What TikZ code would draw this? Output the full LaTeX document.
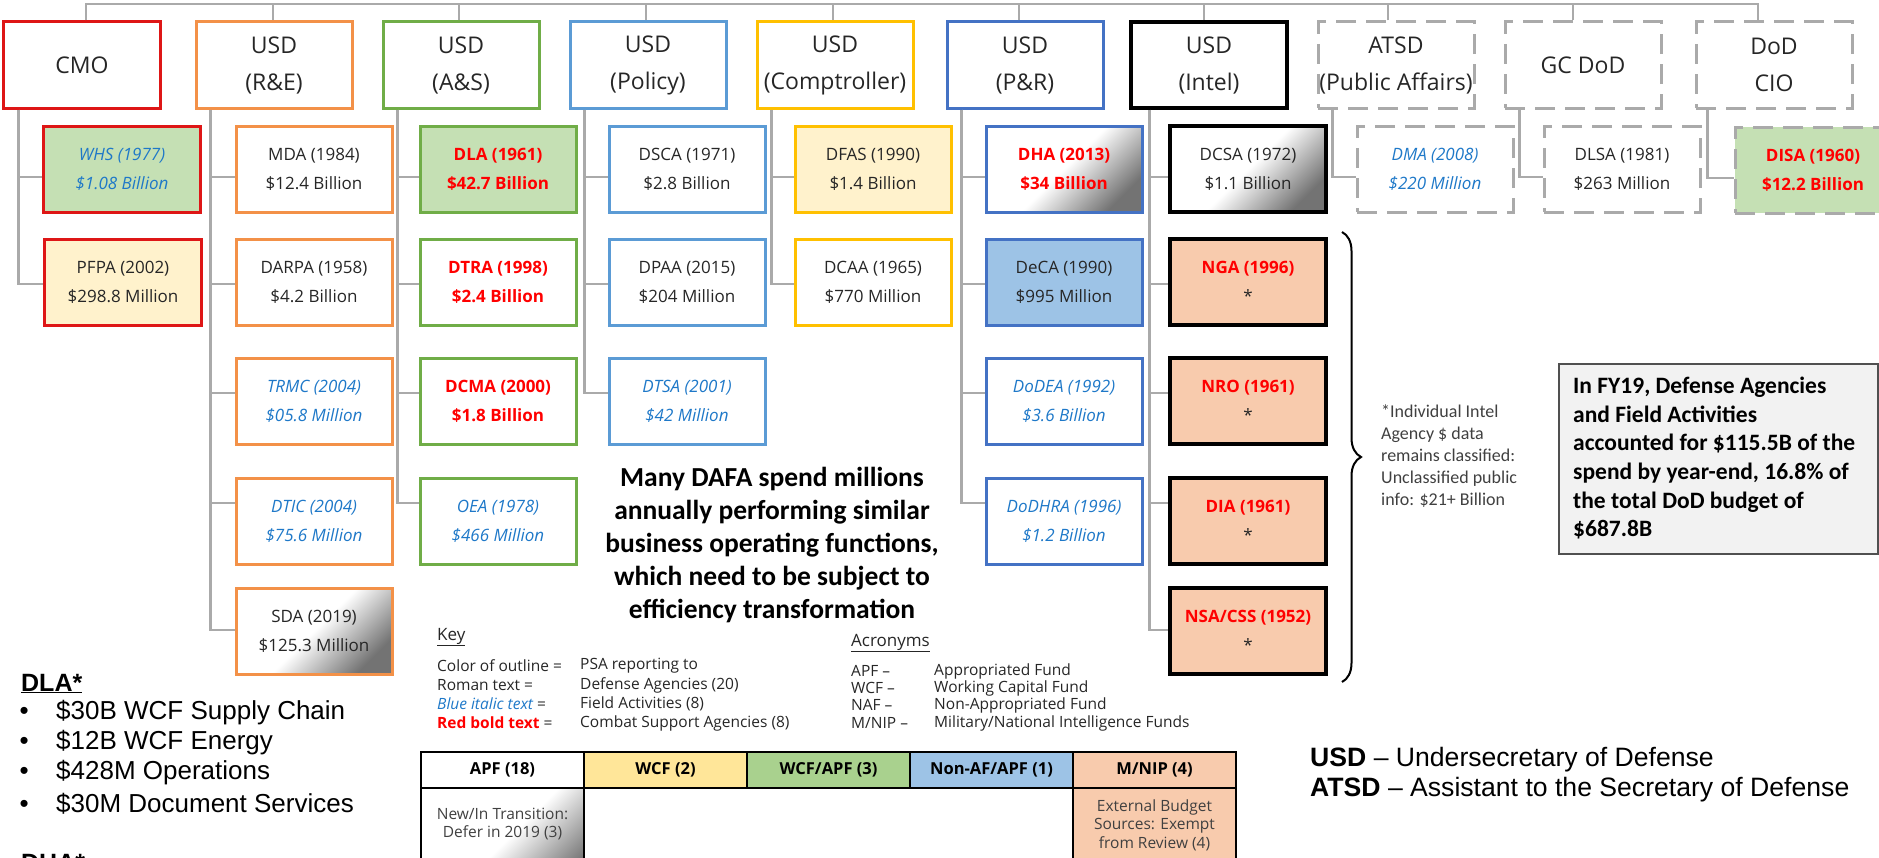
\documentclass[tikz,border=0pt]{standalone}
\usepackage{fontspec}
\setmainfont{Open Sans}
\newfontfamily\carl{Carlito}
\newfontfamily\arlf{Liberation Sans}
\usetikzlibrary{decorations.pathreplacing}
\definecolor{cRed}{RGB}{222,22,22}
\definecolor{cOrange}{RGB}{243,145,72}
\definecolor{cGreen}{RGB}{112,173,71}
\definecolor{cLBlue}{RGB}{91,155,213}
\definecolor{cYellow}{RGB}{255,192,0}
\definecolor{cBlue}{RGB}{68,114,196}
\definecolor{cDash}{RGB}{170,170,170}
\definecolor{cConn}{RGB}{170,170,170}
\definecolor{fGreen}{RGB}{197,224,180}
\definecolor{fYellow}{RGB}{255,242,204}
\definecolor{fBlue}{RGB}{157,195,230}
\definecolor{fPeach}{RGB}{248,203,173}
\definecolor{hYellow}{RGB}{255,230,153}
\definecolor{hGreen}{RGB}{169,209,142}
\definecolor{tBlue}{RGB}{30,120,200}
\definecolor{tRed}{RGB}{255,0,0}
\definecolor{txt}{RGB}{38,38,38}
\definecolor{txtb}{RGB}{64,64,64}
\definecolor{fGray}{RGB}{242,242,242}
\definecolor{bGray}{RGB}{80,80,80}
\tikzset{
  topbox/.style={draw, line width=3bp, minimum width=156bp, minimum height=86bp, inner sep=0pt, align=center, text=txt, font=\fontsize{23bp}{37bp}\selectfont},
  agbox/.style={draw, line width=3bp, minimum width=156bp, minimum height=86bp, inner sep=0pt, align=center, text=txt, font=\fontsize{17bp}{29bp}\selectfont},
  dashbox/.style={draw=cDash, dash pattern=on 20bp off 10bp},
  blackbox/.style={draw=black, line width=3.5bp},
  fa/.style={text=tBlue, font=\fontsize{17bp}{29bp}\selectfont\itshape},
  csa/.style={text=tRed, font=\fontsize{17bp}{29bp}\selectfont\bfseries},
  grad/.style={top color=white, bottom color=black!55, middle color=white, shading angle=45},
  conn/.style={draw=cConn, line width=2.5bp},
  keyt/.style={anchor=west, inner sep=0pt, text=txt, font=\fontsize{15.5bp}{19bp}\selectfont},
  cell/.style={draw=black, line width=2bp, inner sep=0pt},
  hdr/.style={cell, minimum width=163bp, minimum height=36bp, font=\bfseries\fontsize{16.5bp}{20bp}\selectfont, text=black},
  bul/.style={anchor=west, inner sep=0pt, font=\arlf\fontsize{26bp}{30bp}\selectfont},
  legt/.style={anchor=west, inner sep=0pt, font=\arlf\fontsize{26.6bp}{30bp}\selectfont},
}
\begin{document}
\begin{tikzpicture}[x=1bp,y=-1bp]
\useasboundingbox (0,0) rectangle (1879,858);
\clip (0,0) rectangle (1879,858);
% ---------- top level ----------
\node[topbox, draw=cRed] (cmo) at (82,65) {CMO};
\node[topbox, draw=cOrange] (re) at (274,65) {USD\\(R\&E)};
\node[topbox, draw=cGreen] (as) at (461,65) {USD\\(A\&S)};
\node[topbox, draw=cLBlue] (pol) at (648,65) {USD\\(Policy)};
\node[topbox, draw=cYellow] (comp) at (835,65) {USD\\(Comptroller)};
\node[topbox, draw=cBlue] (pr) at (1025,65) {USD\\(P\&R)};
\node[topbox, blackbox] (intel) at (1209,65) {USD\\(Intel)};
\node[topbox, dashbox] (atsd) at (1396,65) {ATSD\\(Public Affairs)};
\node[topbox, dashbox] (gc) at (1583,65) {GC DoD};
\node[topbox, dashbox] (cio) at (1774,65) {DoD\\CIO};
\coordinate (tl) at (82,4);
\draw[conn] ([xshift=4bp]cmo.north) -- ([xshift=4bp]cmo.north |- tl) -- ([xshift=-16bp]cio.north |- tl) -- ([xshift=-16bp]cio.north);
\foreach \n/\d in {re/-1,as/-2,pol/-2,comp/-2,pr/-6,intel/-5,atsd/-8,gc/-10}
  \draw[conn] ([xshift=\d bp]\n.north) -- ([xshift=\d bp]\n.north |- tl);
% ---------- agencies ----------
\node[agbox, draw=cRed, fill=fGreen, fa] (whs) at (122,169) {WHS (1977)\\\$1.08 Billion};
\node[agbox, draw=cRed, fill=fYellow] (pfpa) at (123,282) {PFPA (2002)\\\$298.8 Million};

\node[agbox, draw=cOrange] (mda) at (314,169) {MDA (1984)\\\$12.4 Billion};
\node[agbox, draw=cOrange] (darpa) at (314,282) {DARPA (1958)\\\$4.2 Billion};
\node[agbox, draw=cOrange, fa] (trmc) at (314,401) {TRMC (2004)\\\$05.8 Million};
\node[agbox, draw=cOrange, fa] (dtic) at (314,521) {DTIC (2004)\\\$75.6 Million};
\node[agbox, draw=cOrange, grad] (sda) at (314,631) {SDA (2019)\\\$125.3 Million};

\node[agbox, draw=cGreen, fill=fGreen, csa] (dla) at (498,169) {DLA (1961)\\\$42.7 Billion};
\node[agbox, draw=cGreen, csa] (dtra) at (498,282) {DTRA (1998)\\\$2.4 Billion};
\node[agbox, draw=cGreen, csa] (dcma) at (498,401) {DCMA (2000)\\\$1.8 Billion};
\node[agbox, draw=cGreen, fa] (oea) at (498,521) {OEA (1978)\\\$466 Million};

\node[agbox, draw=cLBlue] (dsca) at (687,169) {DSCA (1971)\\\$2.8 Billion};
\node[agbox, draw=cLBlue] (dpaa) at (687,282) {DPAA (2015)\\\$204 Million};
\node[agbox, draw=cLBlue, fa] (dtsa) at (687,401) {DTSA (2001)\\\$42 Million};

\node[agbox, draw=cYellow, fill=fYellow] (dfas) at (873,169) {DFAS (1990)\\\$1.4 Billion};
\node[agbox, draw=cYellow] (dcaa) at (873,282) {DCAA (1965)\\\$770 Million};

\node[agbox, draw=cBlue, grad, csa] (dha) at (1064,169) {DHA (2013)\\\$34 Billion};
\node[agbox, draw=cBlue, fill=fBlue] (deca) at (1064,282) {DeCA (1990)\\\$995 Million};
\node[agbox, draw=cBlue, fa] (dodea) at (1064,401) {DoDEA (1992)\\\$3.6 Billion};
\node[agbox, draw=cBlue, fa] (dodhra) at (1064,521) {DoDHRA (1996)\\\$1.2 Billion};

\node[agbox, blackbox, grad] (dcsa) at (1248,169) {DCSA (1972)\\\$1.1 Billion};
\node[agbox, blackbox, fill=fPeach, csa] (nga) at (1248,282) {NGA (1996)\\{\color{txt}\mdseries *}};
\node[agbox, blackbox, fill=fPeach, csa] (nro) at (1248,401) {NRO (1961)\\{\color{txt}\mdseries *}};
\node[agbox, blackbox, fill=fPeach, csa] (dia) at (1248,521) {DIA (1961)\\{\color{txt}\mdseries *}};
\node[agbox, blackbox, fill=fPeach, csa] (nsa) at (1248,631) {NSA/CSS (1952)\\{\color{txt}\mdseries *}};

\node[agbox, dashbox, fa] (dma) at (1435,169) {DMA (2008)\\\$220 Million};
\node[agbox, dashbox] (dlsa) at (1622,169) {DLSA (1981)\\\$263 Million};
\node[agbox, dashbox, fill=fGreen, csa] (disa) at (1813,170) {DISA (1960)\\\$12.2 Billion};
% ---------- connectors ----------
\coordinate (r1) at (0,177);
\coordinate (r2) at (0,284);
\coordinate (r3) at (0,393);
\coordinate (r4) at (0,503);
\coordinate (r5) at (0,630);
\draw[conn] ([xshift=16bp]cmo.south west) |- (whs.west |- r1);
\draw[conn] ([xshift=16bp]cmo.south west) |- (pfpa.west |- r2);
\draw[conn] ([xshift=16bp]re.south west) |- (mda.west |- r1);
\draw[conn] ([xshift=16bp]re.south west) |- (darpa.west |- r2);
\draw[conn] ([xshift=16bp]re.south west) |- (trmc.west |- r3);
\draw[conn] ([xshift=16bp]re.south west) |- (dtic.west |- r4);
\draw[conn] ([xshift=16bp]re.south west) |- (sda.west |- r5);
\draw[conn] ([xshift=16bp]as.south west) |- (dla.west |- r1);
\draw[conn] ([xshift=16bp]as.south west) |- (dtra.west |- r2);
\draw[conn] ([xshift=16bp]as.south west) |- (dcma.west |- r3);
\draw[conn] ([xshift=16bp]as.south west) |- (oea.west |- r4);
\draw[conn] ([xshift=16bp]pol.south west) |- (dsca.west |- r1);
\draw[conn] ([xshift=16bp]pol.south west) |- (dpaa.west |- r2);
\draw[conn] ([xshift=16bp]pol.south west) |- (dtsa.west |- r3);
\draw[conn] ([xshift=16bp]comp.south west) |- (dfas.west |- r1);
\draw[conn] ([xshift=16bp]comp.south west) |- (dcaa.west |- r2);
\draw[conn] ([xshift=16bp]pr.south west) |- (dha.west |- r1);
\draw[conn] ([xshift=16bp]pr.south west) |- (deca.west |- r2);
\draw[conn] ([xshift=16bp]pr.south west) |- (dodea.west |- r3);
\draw[conn] ([xshift=16bp]pr.south west) |- (dodhra.west |- r4);
\draw[conn] ([xshift=20bp]intel.south west) |- (dcsa.west |- r1);
\draw[conn] ([xshift=20bp]intel.south west) |- (nga.west |- r2);
\draw[conn] ([xshift=20bp]intel.south west) |- (nro.west |- r3);
\draw[conn] ([xshift=20bp]intel.south west) |- (dia.west |- r4);
\draw[conn] ([xshift=20bp]intel.south west) |- (nsa.west |- r5);
\draw[conn] ([xshift=16bp]atsd.south west) |- (dma.west |- r1);
\draw[conn] ([xshift=16bp]gc.south west) |- (dlsa.west |- r1);
\draw[conn] ([xshift=13bp]cio.south west) |- ([yshift=-1bp]disa.west |- r1);
% ---------- brace and note ----------
\draw[line width=2bp, black, decorate, decoration={brace, amplitude=19bp}] (1342,232) -- (1342,682);
\node[anchor=north west, align=left, inner sep=0pt, text=txtb, font=\carl\fontsize{18bp}{22bp}\selectfont] (note) at (1381,405) {*Individual Intel\\Agency \$ data\\remains classified:\\Unclassified public\\info: \$21+ Billion};
\node[draw=bGray, fill=fGray, line width=2bp, minimum width=319bp, minimum height=190bp, anchor=north west] (fybox) at (1558,363) {};
\node[anchor=north west, align=left, inner sep=0pt, text=black, font=\carl\bfseries\fontsize{23.5bp}{28.6bp}\selectfont] (fy) at (1573,377) {In FY19, Defense Agencies\\and Field Activities\\accounted for \$115.5B of the\\spend by year-end, 16.8\% of\\the total DoD budget of\\\$687.8B};
% ---------- middle statement ----------
\node[anchor=north, align=center, inner sep=0pt, text=black, font=\carl\bfseries\fontsize{27.5bp}{33bp}\selectfont] (many) at (772,467) {Many DAFA spend millions\\annually performing similar\\business operating functions,\\which need to be subject to\\efficiency transformation};
% ---------- key ----------
\node[keyt, font=\fontsize{17bp}{20bp}\selectfont] (k0) at (437,637) {\underline{Key}};
\node[keyt] (k1a) at (437,666) {Color of outline =};
\node[keyt] (k1b) at (580,666) {PSA reporting to};
\node[keyt] (k2a) at (437,685) {Roman text =};
\node[keyt] (k2b) at (580,685) {Defense Agencies (20)};
\node[keyt] (k3a) at (437,704) {{\color{tBlue}\itshape Blue italic text} =};
\node[keyt] (k3b) at (580,704) {Field Activities (8)};
\node[keyt] (k4a) at (437,723) {{\color{tRed}\bfseries Red bold text} =};
\node[keyt] (k4b) at (580,723) {Combat Support Agencies (8)};
\node[keyt, font=\fontsize{17bp}{20bp}\selectfont] (a0) at (851,643) {\underline{Acronyms}};
\node[keyt] (a1a) at (851,671) {APF –};
\node[keyt] (a1b) at (934,671) {Appropriated Fund};
\node[keyt] (a2a) at (851,688) {WCF –};
\node[keyt] (a2b) at (934,688) {Working Capital Fund};
\node[keyt] (a3a) at (851,705) {NAF –};
\node[keyt] (a3b) at (934,705) {Non-Appropriated Fund};
\node[keyt] (a4a) at (851,723) {M/NIP –};
\node[keyt] (a4b) at (934,723) {Military/National Intelligence Funds};
% ---------- table ----------
\node[cell, grad, minimum width=163bp, minimum height=112bp] (c1) at (502.5,844) {};
\node[cell, minimum width=489bp, minimum height=112bp] (c2) at (828.5,844) {};
\node[cell, fill=fPeach, minimum width=163bp, minimum height=112bp] (c3) at (1154.5,844) {};
\node[hdr, fill=white] (h1) at (502.5,770) {APF (18)};
\node[hdr, fill=hYellow] (h2) at (665.5,770) {WCF (2)};
\node[hdr, fill=hGreen] (h3) at (828.5,770) {WCF/APF (3)};
\node[hdr, fill=fBlue] (h4) at (991.5,770) {Non-AF/APF (1)};
\node[hdr, fill=fPeach] (h5) at (1154.5,770) {M/NIP (4)};
\node[align=center, inner sep=0pt, text=txtb, font=\fontsize{15.5bp}{18.5bp}\selectfont] (c1t) at (502.5,824) {New/In Transition:\\Defer in 2019 (3)};
\node[align=center, inner sep=0pt, text=txtb, font=\fontsize{15.5bp}{18.5bp}\selectfont] (c3t) at (1154.5,825) {External Budget\\Sources: Exempt\\from Review (4)};
% ---------- DLA / DHA notes ----------
\node[anchor=base west, inner sep=0pt, font=\arlf\bfseries\fontsize{25bp}{30bp}\selectfont] (dlah) at (21,691) {\underline{DLA*}};
\node[bul] (b1) at (19.5,713) {\makebox[36.5bp][l]{•}\$30B WCF Supply Chain};
\node[bul] (b2) at (19.5,743) {\makebox[36.5bp][l]{•}\$12B WCF Energy};
\node[bul] (b3) at (19.5,773) {\makebox[36.5bp][l]{•}\$428M Operations};
\node[bul] (b4) at (19.5,804) {\makebox[36.5bp][l]{•}\$30M Document Services};
\node[anchor=base west, inner sep=0pt, font=\arlf\bfseries\fontsize{25bp}{30bp}\selectfont] (dhah) at (21,871) {\underline{DHA*}};
% ---------- legend ----------
\node[legt] (l1) at (1310,760) {\textbf{USD} – Undersecretary of Defense};
\node[legt] (l2) at (1310,790) {\textbf{ATSD} – Assistant to the Secretary of Defense};
\end{tikzpicture}
\end{document}
